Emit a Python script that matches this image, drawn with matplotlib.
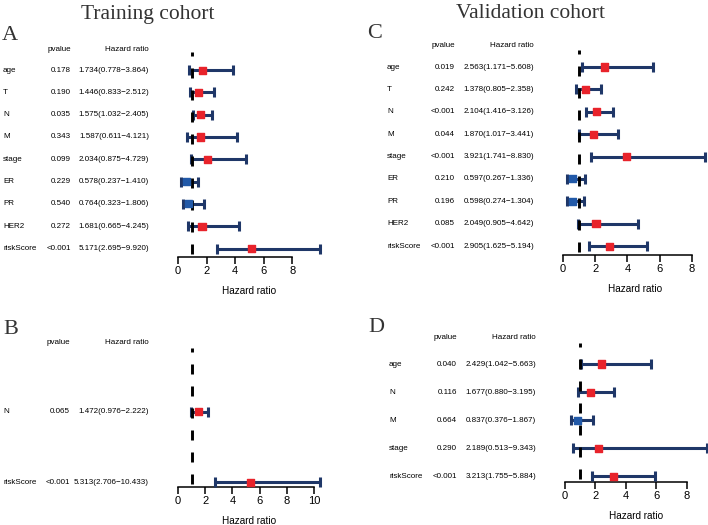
import numpy as np
import matplotlib
matplotlib.use('Agg')
import matplotlib.pyplot as plt
import matplotlib.transforms as mtransforms

plt.rcParams['font.family'] = ['Liberation Sans Narrow', 'Liberation Sans', 'DejaVu Sans']

# data
train_multi_vars = ['age', 'T', 'N', 'M', 'stage', 'ER', 'PR', 'HER2', 'riskScore']
train_multi_p = ['0.178', '0.190', '0.035', '0.343', '0.099', '0.229', '0.540', '0.272', '<0.001']
train_multi_hr = [1.734, 1.446, 1.575, 1.587, 2.034, 0.578, 0.764, 1.681, 5.171]
train_multi_lo = [0.778, 0.833, 1.032, 0.611, 0.875, 0.237, 0.323, 0.665, 2.695]
train_multi_hi = [3.864, 2.512, 2.405, 4.121, 4.729, 1.410, 1.806, 4.245, 9.920]

train_sel_vars = ['N', 'riskScore']
train_sel_p = ['0.065', '<0.001']
train_sel_hr = [1.472, 5.313]
train_sel_lo = [0.976, 2.706]
train_sel_hi = [2.222, 10.433]

valid_multi_vars = ['age', 'T', 'N', 'M', 'stage', 'ER', 'PR', 'HER2', 'riskScore']
valid_multi_p = ['0.019', '0.242', '<0.001', '0.044', '<0.001', '0.210', '0.196', '0.085', '<0.001']
valid_multi_hr = [2.563, 1.378, 2.104, 1.870, 3.921, 0.597, 0.598, 2.049, 2.905]
valid_multi_lo = [1.171, 0.805, 1.416, 1.017, 1.741, 0.267, 0.274, 0.905, 1.625]
valid_multi_hi = [5.608, 2.358, 3.126, 3.441, 8.830, 1.336, 1.304, 4.642, 5.194]

valid_sel_vars = ['age', 'N', 'M', 'stage', 'riskScore']
valid_sel_p = ['0.040', '0.116', '0.664', '0.290', '<0.001']
valid_sel_hr = [2.429, 1.677, 0.837, 2.189, 3.213]
valid_sel_lo = [1.042, 0.880, 0.376, 0.513, 1.755]
valid_sel_hi = [5.663, 3.195, 1.867, 9.343, 5.884]

W, H = 708, 525
navy = '#1f3768'
red = '#e8232b'
blue = '#2159a8'
serif = ['Liberation Serif', 'DejaVu Serif']
fs = 5.8

# dashed reference line: on 10px, off 12px, starting with a 3px gap (in lw units)
dash_lw = 2.1
px_per_lw = dash_lw / 0.72
dash_style = (19 / px_per_lw, (10 / px_per_lw, 12 / px_per_lw))

fig = plt.figure(figsize=(W / 100, H / 100), dpi=100)


def px_box(x0, y0, x1, y1):
    return [x0 / W, 1 - y1 / H, (x1 - x0) / W, (y1 - y0) / H]


def forest(box, xlim, ylim, xmax_tick, vars_, pv, hr, lo, hi, cols, head_y, xticks):
    ax = fig.add_axes(px_box(*box))
    n = len(vars_)
    y = np.arange(n)[::-1]
    ax.hlines(y, lo, hi, color=navy, lw=2.2, zorder=2, clip_on=False)
    for yy, l, h in zip(y, lo, hi):
        ax.plot([l, h], [yy, yy], marker='|', ms=7, mew=2.2, color=navy,
                ls='none', clip_on=False, zorder=3)
    ax.axvline(1, color='black', lw=dash_lw, ls=dash_style, zorder=3.5)
    colors = [red if v > 1 else blue for v in hr]
    ax.scatter(hr, y, marker='s', s=26, c=colors, zorder=4, clip_on=False)
    ax.set_xlim(*xlim)
    ax.set_ylim(*ylim)
    for s in ['top', 'right', 'left']:
        ax.spines[s].set_visible(False)
    ax.spines['bottom'].set_bounds(0, xmax_tick)
    ax.spines['bottom'].set_linewidth(1.1)
    ax.set_yticks([])
    ax.set_xticks(xticks)
    ax.tick_params(axis='x', length=5, width=1.1, labelsize=8, pad=1.5)
    ax.set_xlabel('Hazard ratio', fontsize=7.2, labelpad=7)

    tr = mtransforms.blended_transform_factory(fig.transFigure, ax.transData)
    xl, xp, xh = cols[0] / W, cols[1] / W, cols[2] / W
    ax.text(xp, head_y, 'pvalue', transform=tr, ha='right', va='center', fontsize=fs)
    ax.text(xh, head_y, 'Hazard ratio', transform=tr, ha='right', va='center', fontsize=fs)
    for yy, v, p, h, l, u in zip(y, vars_, pv, hr, lo, hi):
        ax.text(xl, yy, v, transform=tr, ha='left', va='center', fontsize=fs)
        ax.text(xp, yy, p, transform=tr, ha='right', va='center', fontsize=fs)
        ax.text(xh, yy, '%.3f(%.3f\u2212%.3f)' % (h, l, u), transform=tr,
                ha='right', va='center', fontsize=fs)
    return ax


forest((178, 52, 321, 257), (0, 10), (-0.38, 8.81), 8,
       train_multi_vars, train_multi_p, train_multi_hr, train_multi_lo, train_multi_hi,
       (3, 71, 149), 8.94, [0, 2, 4, 6, 8])
forest((178, 348, 321, 487), (0, 10.5), (-0.07, 1.91), 10,
       train_sel_vars, train_sel_p, train_sel_hr, train_sel_lo, train_sel_hi,
       (3, 70, 149), 1.99, [0, 2, 4, 6, 8, 10])
forest((563, 50, 708, 255), (0, 9), (-0.4, 8.76), 8,
       valid_multi_vars, valid_multi_p, valid_multi_hr, valid_multi_lo, valid_multi_hi,
       (387, 455, 534), 8.94, [0, 2, 4, 6, 8])
forest((565, 343, 708, 482), (0, 9.4), (-0.21, 4.75), 8,
       valid_sel_vars, valid_sel_p, valid_sel_hr, valid_sel_lo, valid_sel_hi,
       (389, 457, 536), 4.96, [0, 2, 4, 6, 8])

fig.text(148 / W, 1 - 14 / H, 'Training cohort', ha='center', va='center',
         fontsize=15.5, family=serif, color='#333333')
fig.text(531 / W, 1 - 13 / H, 'Validation cohort', ha='center', va='center',
         fontsize=15.5, family=serif, color='#333333')
for lab, x, yy in [('A', 2, 35), ('B', 3, 330), ('C', 367, 33), ('D', 368, 328)]:
    fig.text(x / W, 1 - yy / H, lab, ha='left', va='center', fontsize=16,
             family=serif, color='#333333')

fig.savefig('out.png', dpi=100)
